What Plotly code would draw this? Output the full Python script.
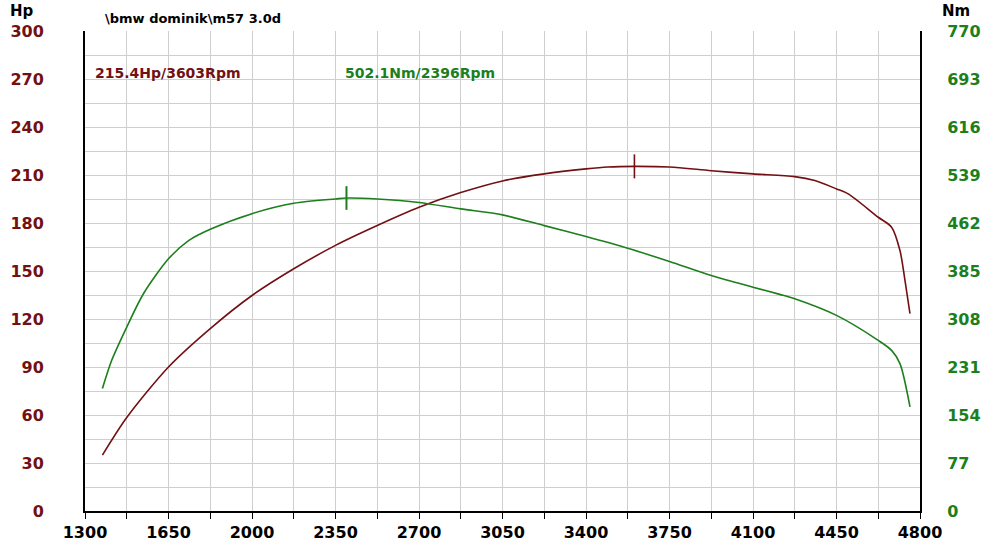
import plotly.graph_objects as go

rpm_hp = [1373, 1475, 1650, 1825, 2000, 2175, 2350, 2525, 2700, 2875, 3050, 3225, 3400,
          3491, 3603, 3750, 3925, 4100, 4275, 4359, 4450, 4499, 4625, 4681, 4716, 4737, 4758]
hp = [34.9, 58.4, 90, 114, 134.7, 151.4, 166, 178.4, 189.8, 199, 206.3, 210.7, 213.8,
      215.0, 215.4, 215.0, 212.7, 210.7, 209, 206.5, 201.3, 198.2, 183.6, 177.4, 162.8, 144.1, 123.3]

rpm_nm = [1373, 1412, 1475, 1545, 1650, 1734, 1825, 2000, 2175, 2350, 2396, 2525, 2700, 2875, 3050,
          3225, 3400, 3575, 3750, 3925, 4100, 4212, 4275, 4450, 4625, 4681, 4716, 4758]
nm = [196.4, 241.7, 295, 348.5, 404.5, 433.8, 452, 477, 493.6, 500.6, 502.1, 500.6, 495, 484.6, 475,
      457.8, 440.2, 421.5, 400.2, 377.8, 359, 347.5, 340.5, 313.8, 273.7, 257.7, 236.4, 167]

peak_hp_rpm, peak_hp = 3603, 215.4
peak_nm_rpm, peak_nm = 2396, 502.1

x_ticks = [1300, 1650, 2000, 2350, 2700, 3050, 3400, 3750, 4100, 4450, 4800]
hp_ticks = [0, 30, 60, 90, 120, 150, 180, 210, 240, 270, 300]
nm_ticks = [0, 77, 154, 231, 308, 385, 462, 539, 616, 693, 770]

RED = "#721013"
GREEN = "#1c7f1c"
GRID = "#cfcfcf"
FONT = "DejaVu Sans"

fig = go.Figure()
fig.add_trace(go.Scatter(x=rpm_hp, y=hp, mode="lines", line=dict(color=RED, width=1.6, shape="spline", smoothing=0.8),
                         yaxis="y"))
fig.add_trace(go.Scatter(x=rpm_nm, y=nm, mode="lines", line=dict(color=GREEN, width=1.6, shape="spline", smoothing=0.8),
                         yaxis="y2"))
# peak markers
fig.add_trace(go.Scatter(x=[peak_hp_rpm, peak_hp_rpm], y=[peak_hp - 7.5, peak_hp + 7.5], mode="lines",
                         line=dict(color=RED, width=1.6), yaxis="y"))
fig.add_trace(go.Scatter(x=[peak_nm_rpm, peak_nm_rpm], y=[peak_nm - 19, peak_nm + 19], mode="lines",
                         line=dict(color=GREEN, width=2), yaxis="y2"))

fig.update_layout(
    width=1000, height=560,
    margin=dict(l=85, r=80, t=31, b=49, autoexpand=False),
    paper_bgcolor="white", plot_bgcolor="white",
    showlegend=False,
    font=dict(family=FONT),
    xaxis=dict(range=[1300, 4800], tickvals=x_ticks, showgrid=True, gridcolor=GRID, gridwidth=1,
               showline=True, linecolor="black", linewidth=2, ticks="outside", ticklen=6, tickcolor="black",
               tickfont=dict(family=FONT, size=16, color="black", weight="bold"), automargin=False,
               minor=dict(dtick=175, tick0=1300, showgrid=True, gridcolor=GRID, ticks="outside",
                          ticklen=6, tickcolor="black"),
               zeroline=False),
    yaxis=dict(range=[0, 300], tickvals=hp_ticks, showgrid=True, gridcolor=GRID, automargin=False,
               showline=True, linecolor="black", linewidth=2, ticks="", ticklabelstandoff=36,
               tickfont=dict(family=FONT, size=16, color=RED, weight="bold"),
               minor=dict(dtick=15, tick0=0, showgrid=True, gridcolor=GRID),
               zeroline=False),
    yaxis2=dict(range=[0, 770], tickvals=nm_ticks, overlaying="y", side="right", showgrid=False,
                showline=True, linecolor="black", linewidth=2, ticks="", ticklabelstandoff=22,
                tickfont=dict(family=FONT, size=16, color=GREEN, weight="bold"), automargin=False,
                zeroline=False),
    annotations=[
        dict(text="Hp", xref="paper", yref="paper", x=0, y=1, xanchor="center", yanchor="middle",
             xshift=-63, yshift=20, showarrow=False,
             font=dict(family=FONT, size=15, color="black", weight="bold")),
        dict(text="Nm", xref="paper", yref="paper", x=1, y=1, xanchor="center", yanchor="middle",
             xshift=36, yshift=20, showarrow=False,
             font=dict(family=FONT, size=15, color="black", weight="bold")),
        dict(text="\\bmw dominik\\m57 3.0d", xref="paper", yref="paper", x=0, y=1, xanchor="left",
             yanchor="middle", xshift=18, yshift=13, showarrow=False,
             font=dict(family=FONT, size=13, color="black", weight="bold")),
        dict(text=f"{peak_hp}Hp/{peak_hp_rpm}Rpm", xref="x", yref="y", x=1334, y=274, xanchor="left",
             yanchor="middle", showarrow=False, font=dict(family=FONT, size=14, color=RED, weight="bold")),
        dict(text=f"{peak_nm}Nm/{peak_nm_rpm}Rpm", xref="x", yref="y", x=2382, y=274, xanchor="left",
             yanchor="middle", showarrow=False, font=dict(family=FONT, size=14, color=GREEN, weight="bold")),
    ],
)

fig.write_html("out.html", config={"displayModeBar": False},
               post_script="document.body.style.margin='0';")
